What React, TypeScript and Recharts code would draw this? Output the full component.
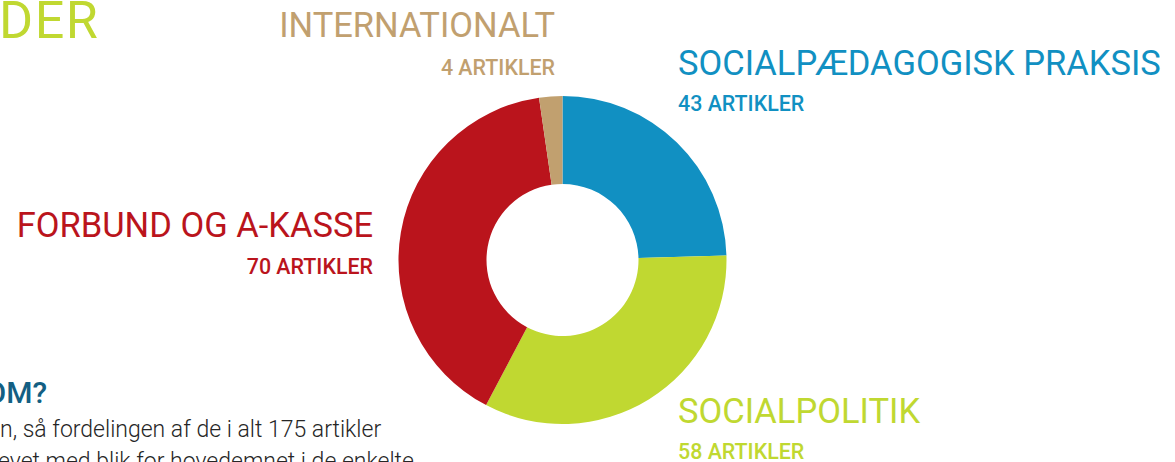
import React from "react";
import { PieChart, Pie, Cell } from "recharts";

const categories = ["Socialpædagogisk praksis", "Socialpolitik", "Forbund og a-kasse", "Internationalt"];
const articleCounts = [43, 58, 70, 4];
const sliceColors = ["#1190C2", "#C0D831", "#BA141C", "#C1A06F"];
const titleLabels = ["SOCIALPÆDAGOGISK PRAKSIS", "SOCIALPOLITIK", "FORBUND OG A-KASSE", "INTERNATIONALT"];
const countLabels = ["43 ARTIKLER", "58 ARTIKLER", "70 ARTIKLER", "4 ARTIKLER"];

const data = categories.map((name, i) => ({ name, value: articleCounts[i] }));

const FONT = "Roboto, 'Open Sans', sans-serif";
const TITLE = 34.5;
const SUB = 21.4;

export default function App() {
  return (
    <div
      style={{
        position: "fixed",
        left: 0,
        top: 0,
        width: 1175,
        height: 462,
        overflow: "hidden",
        background: "#ffffff",
      }}
    >
      <PieChart width={1175} height={462} margin={{ top: 0, right: 0, bottom: 0, left: 0 }}>
        <Pie
          data={data}
          dataKey="value"
          nameKey="name"
          cx={562.5}
          cy={260}
          innerRadius={76}
          outerRadius={164}
          startAngle={90}
          endAngle={-270}
          stroke="none"
          isAnimationActive={false}
        >
          {data.map((d, i) => (
            <Cell key={d.name} fill={sliceColors[i]} />
          ))}
        </Pie>
      </PieChart>
      <svg
        width={1175}
        height={462}
        style={{ position: "absolute", left: 0, top: 0, pointerEvents: "none" }}
        fontFamily={FONT}
      >
        <text x={-1} y={38} fontSize={52} letterSpacing={1.5} fill="#C0D831" fontWeight={400}>DER</text>

        <text x={555} y={37} fontSize={TITLE} fill={sliceColors[3]} textAnchor="end">{titleLabels[3]}</text>
        <text x={555} y={75} fontSize={SUB} fill={sliceColors[3]} fontWeight={500} textAnchor="end">{countLabels[3]}</text>

        <text x={678} y={75} fontSize={TITLE} fill={sliceColors[0]}>{titleLabels[0]}</text>
        <text x={678} y={111} fontSize={SUB} fill={sliceColors[0]} fontWeight={500}>{countLabels[0]}</text>

        <text x={373} y={237} fontSize={TITLE} fill={sliceColors[2]} textAnchor="end">{titleLabels[2]}</text>
        <text x={373} y={274} fontSize={SUB} fill={sliceColors[2]} fontWeight={500} textAnchor="end">{countLabels[2]}</text>

        <text x={678} y={423} fontSize={TITLE} fill={sliceColors[1]}>{titleLabels[1]}</text>
        <text x={678} y={459} fontSize={SUB} fill={sliceColors[1]} fontWeight={500}>{countLabels[1]}</text>

        <text x={47} y={403} fontSize={30} fill="#135F83" fontWeight={500} textAnchor="end">OM?</text>
        <text x={0} y={437} fontSize={23} fill="#262626" fontWeight={300}>n, så fordelingen af de i alt 175 artikler</text>
        <text x={-2} y={469} fontSize={23} fill="#262626" fontWeight={300}>evet med blik for hovedemnet i de enkelte</text>
      </svg>
    </div>
  );
}
